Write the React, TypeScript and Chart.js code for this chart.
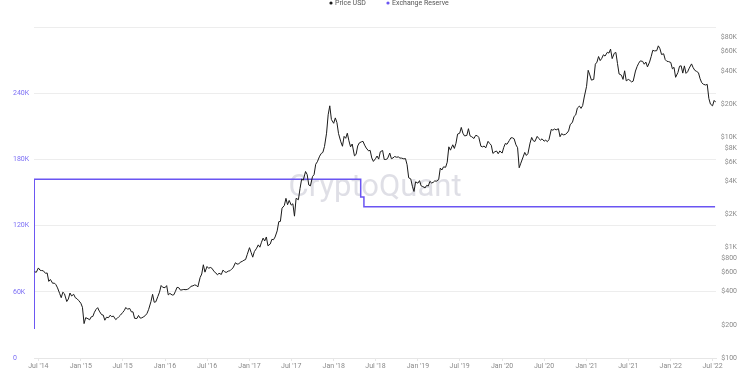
import React, { useEffect, useRef } from 'react';
import { Chart, registerables } from 'chart.js';

Chart.register(...registerables);

const legendLabels = ['Price USD', 'Exchange Reserve'];
const priceColor = '#1a1a1a';
const reserveColor = '#6a55f2';

// Price USD sampled on the 1st, 8th, 15th and 22nd of every month, starting 15 Jun 2014
const slotDays = [1, 8, 15, 22];
const priceStartYear = 2014;
const priceStartMonth = 5; // June (0-based)
const priceStartSlot = 2;
const priceUSD = [
  // 2014 Jun (15, 22)
  605, 598,
  // 2014 Jul - Dec
  655, 625, 620, 618, 585, 590, 495, 515, 475, 478, 462, 432,
  385, 352, 395, 382, 325, 343, 388, 365, 378, 352, 345, 333,
  // 2015
  314, 288, 205, 232, 227, 222, 236, 238, 260, 276, 286, 266,
  247, 245, 220, 234, 232, 244, 237, 240, 223, 229, 237, 245,
  258, 269, 287, 277, 281, 262, 262, 229, 228, 243, 230, 231,
  237, 243, 254, 276, 325, 378, 320, 323, 362, 395, 454, 437,
  // 2016
  434, 453, 373, 385, 372, 374, 402, 437, 433, 412, 415, 418,
  416, 420, 428, 446, 451, 459, 456, 440, 536, 577, 700, 600,
  675, 650, 662, 651, 606, 591, 567, 586, 572, 626, 606, 596,
  613, 617, 638, 657, 730, 710, 711, 738, 752, 770, 780, 864,
  // 2017
  1000, 905, 820, 920, 990, 1060, 1010, 1120, 1220, 1150, 1250, 1040,
  1080, 1190, 1180, 1250, 1420, 1720, 1730, 2280, 2410, 2800, 2450, 2680,
  2430, 2500, 1930, 2800, 2720, 3430, 4180, 4090, 4900, 4600, 3700, 3630,
  4400, 4600, 5700, 6000, 6750, 7140, 7300, 8250, 10900, 16000, 19300, 14500,
  // 2018
  13400, 15000, 13600, 10800, 9100, 8300, 10200, 9800, 10900, 9300, 8200, 8700,
  6800, 7000, 8350, 8900, 9100, 9200, 8500, 8000, 7540, 7620, 6500, 6050,
  6400, 6770, 6350, 7400, 7600, 6300, 6300, 6400, 7200, 6400, 6500, 6700,
  6600, 6650, 6490, 6480, 6380, 6420, 5650, 4300, 4200, 3600, 3230, 3950,
  // 2019
  3840, 4050, 3630, 3580, 3480, 3670, 3620, 3990, 3860, 3900, 4030, 4000,
  4140, 5260, 5060, 5400, 5350, 5950, 8200, 7650, 8560, 7930, 8840, 10700,
  10900, 12300, 10900, 10300, 10400, 11980, 10300, 10130, 9760, 10400, 10360, 9990,
  8300, 8200, 8340, 8020, 9200, 8800, 8480, 7150, 7420, 7510, 7100, 7520,
  // 2020
  7200, 8100, 8800, 8650, 9350, 9900, 9900, 9700, 8550, 8050, 5300, 5830,
  6640, 7300, 6850, 7130, 8860, 9980, 9310, 9170, 10200, 9750, 9430, 9690,
  9230, 9430, 9130, 9530, 11800, 11600, 11900, 11680, 11970, 10130, 10800, 10530,
  10620, 10930, 11430, 12990, 13740, 15480, 15960, 18400, 19200, 18300, 19400, 23200,
  // 2021
  29000, 40500, 36800, 33000, 33500, 46000, 48000, 54000, 49600, 52000, 56000, 54500,
  59000, 58000, 63000, 51700, 57800, 58800, 46700, 37500, 36600, 33500, 40100, 32500,
  33500, 32800, 31800, 32300, 39900, 43800, 47000, 49300, 48800, 46000, 48100, 43500,
  48100, 53900, 61500, 60700, 61000, 67500, 63600, 56300, 57200, 50600, 48900, 48600,
  // 2022
  47700, 41800, 43100, 35000, 38700, 44100, 44500, 38200, 44400, 38000, 39300, 42400,
  46300, 42800, 40500, 39700, 38500, 34000, 31300, 30300, 29800, 30200, 22500, 20000,
  19300, 21600, 20800,
];

const reserveDates = ['2014-06-12', '2014-06-13', '2018-04-28', '2018-05-12', '2022-07-12'];
const reserveValues = [27000, 162000, 146000, 137000, 137000];

const leftTicks = [0, 60000, 120000, 180000, 240000, 300000];
const rightTicks = [100, 200, 400, 600, 800, 1000, 2000, 4000, 6000, 8000, 10000, 20000, 40000, 60000, 80000, 100000];
const xTickDates = [
  '2014-07-01', '2015-01-01', '2015-07-01', '2016-01-01', '2016-07-01', '2017-01-01',
  '2017-07-01', '2018-01-01', '2018-07-01', '2019-01-01', '2019-07-01', '2020-01-01',
  '2020-07-01', '2021-01-01', '2021-07-01', '2022-01-01', '2022-07-01',
];
const xTickLabels = [
  "Jul '14", "Jan '15", "Jul '15", "Jan '16", "Jul '16", "Jan '17",
  "Jul '17", "Jan '18", "Jul '18", "Jan '19", "Jul '19", "Jan '20",
  "Jul '20", "Jan '21", "Jul '21", "Jan '22", "Jul '22",
];
const xMinDate = '2014-06-12';
const xMaxDate = '2022-07-16';

const ts = (d: string) => Date.parse(d + 'T00:00:00Z');

function priceSlotTime(i: number) {
  const slot = i + priceStartSlot;
  const m = priceStartMonth + Math.floor(slot / 4);
  const y = priceStartYear + Math.floor(m / 12);
  return Date.UTC(y, m % 12, slotDays[slot % 4]);
}

const FONT = 'Roboto';

const decorPlugin = {
  id: 'decor',
  beforeDatasetsDraw(chart: any) {
    const ctx = chart.ctx;
    ctx.save();
    ctx.font = `31px ${FONT}`;
    ctx.fillStyle = 'rgba(185,185,200,0.45)';
    ctx.textAlign = 'center';
    ctx.textBaseline = 'middle';
    ctx.fillText('CryptoQuant', 375, 188);
    ctx.restore();
  },
  afterDraw(chart: any) {
    const ctx = chart.ctx;
    ctx.save();
    ctx.font = `7px ${FONT}`;
    ctx.textBaseline = 'middle';
    ctx.textAlign = 'left';
    const items = [
      { label: legendLabels[0], color: priceColor, x: 331 },
      { label: legendLabels[1], color: reserveColor, x: 388 },
    ];
    for (const it of items) {
      ctx.fillStyle = it.color;
      ctx.beginPath();
      ctx.arc(it.x, 3, 1.6, 0, Math.PI * 2);
      ctx.fill();
      ctx.fillStyle = '#555';
      ctx.fillText(it.label, it.x + 4, 3);
    }
    ctx.restore();
  },
};

export default function App() {
  const ref = useRef<HTMLCanvasElement | null>(null);

  useEffect(() => {
    if (!ref.current) return;
    const priceData = priceUSD.map((v, i) => ({ x: priceSlotTime(i), y: v }));
    const reserveData = reserveValues.map((v, i) => ({ x: ts(reserveDates[i]), y: v }));
    const xTickValues = xTickDates.map(ts);

    const chart = new Chart(ref.current, {
      type: 'line',
      data: {
        datasets: [
          {
            label: legendLabels[0],
            data: priceData,
            yAxisID: 'yPrice',
            borderColor: priceColor,
            borderWidth: 1,
            pointRadius: 0,
            tension: 0,
          },
          {
            label: legendLabels[1],
            data: reserveData,
            yAxisID: 'yReserve',
            borderColor: reserveColor,
            borderWidth: 1.5,
            pointRadius: 0,
            stepped: true,
          },
        ],
      },
      options: {
        animation: false,
        responsive: true,
        maintainAspectRatio: false,
        layout: { padding: { left: 13, right: 13, top: 27, bottom: 0 } },
        plugins: {
          legend: { display: false },
          tooltip: { enabled: false },
        },
        scales: {
          x: {
            type: 'linear',
            min: ts(xMinDate),
            max: ts(xMaxDate),
            afterBuildTicks: (scale: any) => {
              scale.ticks = xTickValues.map((v) => ({ value: v }));
            },
            afterFit: (scale: any) => {
              scale.height = 17;
            },
            grid: { display: true, drawOnChartArea: false, tickLength: 3, color: '#e6e6e6' },
            border: { display: true, color: '#e6e6e6' },
            ticks: {
              autoSkip: false,
              maxRotation: 0,
              padding: 1,
              color: '#8a8a8a',
              font: { size: 7, family: FONT },
              callback: (_v: any, i: number) => xTickLabels[i],
            },
          },
          yReserve: {
            type: 'linear',
            position: 'left',
            min: 0,
            max: 300000,
            afterBuildTicks: (scale: any) => {
              scale.ticks = leftTicks.map((v) => ({ value: v }));
            },
            afterFit: (scale: any) => {
              scale.width = 21;
            },
            grid: { color: '#ededed', drawTicks: false },
            border: { display: false },
            ticks: {
              crossAlign: 'far',
              padding: 0,
              color: '#7b6ef5',
              font: { size: 7, family: FONT },
              callback: (v: any) => (v === 300000 ? '' : v === 0 ? '0' : v / 1000 + 'K'),
            },
          },
          yPrice: {
            type: 'logarithmic',
            position: 'right',
            min: 100,
            max: 100000,
            afterBuildTicks: (scale: any) => {
              scale.ticks = rightTicks.map((v) => ({ value: v }));
            },
            afterFit: (scale: any) => {
              scale.width = 21;
            },
            grid: { display: false, drawOnChartArea: false },
            border: { display: false },
            ticks: {
              crossAlign: 'far',
              padding: 0,
              color: '#8a8a8a',
              font: { size: 7, family: FONT },
              callback: (v: any) =>
                v === 100000 ? '' : v >= 1000 ? '$' + v / 1000 + 'K' : '$' + v,
            },
          },
        },
      },
      plugins: [decorPlugin],
    } as any);

    return () => chart.destroy();
  }, []);

  return (
    <div style={{ position: 'fixed', left: 0, top: 0, width: 750, height: 375, background: '#fff' }}>
      <canvas ref={ref} />
    </div>
  );
}
